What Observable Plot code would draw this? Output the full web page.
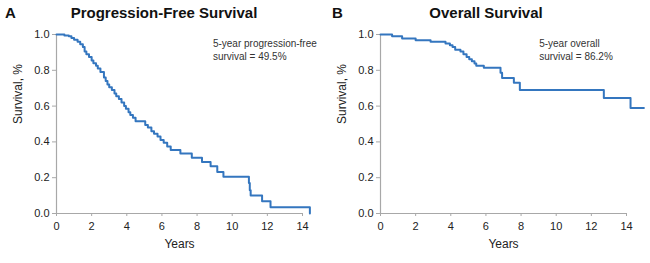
<!DOCTYPE html>
<html>
<head>
<meta charset="utf-8">
<script src="https://cdn.jsdelivr.net/npm/d3@7"></script>
<script src="https://cdn.jsdelivr.net/npm/@observablehq/plot@0.6"></script>
<style>
  html, body { margin: 0; padding: 0; background: #fff; }
  body { width: 650px; height: 263px; position: relative; overflow: hidden; font-family: "Liberation Sans", Arial, sans-serif; }
  .panel { position: absolute; top: 0; z-index: 1; }
  .letter { position: absolute; top: 4px; font-weight: bold; font-size: 15px; color: #111; z-index: 2; line-height: 18px; }
  .title { position: absolute; top: 4px; font-weight: bold; font-size: 15px; color: #111; text-align: center; z-index: 2; line-height: 18px; }
</style>
</head>
<body>
<div class="letter" style="left:5px">A</div>
<div class="title" style="left:56px;width:216px">Progression-Free Survival</div>
<div class="letter" style="left:332px">B</div>
<div class="title" style="left:380px;width:212px">Overall Survival</div>
<div id="pa" class="panel" style="left:0px"></div>
<div id="pb" class="panel" style="left:325px"></div>
<script>
// Panel A: progression-free survival (Kaplan–Meier step points)
const pfsYears = [0, 0.45, 0.7, 0.85, 1.0, 1.2, 1.35, 1.5, 1.6, 1.7, 1.85, 2.0, 2.1, 2.25, 2.35, 2.5, 2.7, 2.8, 2.9, 3.0, 3.15, 3.3, 3.4, 3.55, 3.7, 3.85, 3.95, 4.1, 4.2, 4.35, 4.5, 5.05, 5.2, 5.4, 5.55, 5.75, 5.92, 6.1, 6.3, 6.5, 7.05, 7.7, 8.28, 8.77, 9.15, 9.5, 10.95, 11.0, 11.05, 11.7, 12.18, 14.42];
const pfsSurv  = [1.0, 0.995, 0.99, 0.98, 0.97, 0.96, 0.945, 0.93, 0.905, 0.89, 0.875, 0.855, 0.84, 0.825, 0.81, 0.79, 0.76, 0.74, 0.72, 0.705, 0.69, 0.67, 0.655, 0.64, 0.62, 0.6, 0.585, 0.565, 0.55, 0.535, 0.515, 0.495, 0.48, 0.46, 0.445, 0.43, 0.41, 0.395, 0.375, 0.355, 0.335, 0.312, 0.288, 0.264, 0.232, 0.205, 0.17, 0.13, 0.10, 0.069, 0.035, 0.0];

// Panel B: overall survival
const osYears = [0, 0.66, 1.23, 2.0, 2.85, 3.7, 3.95, 4.1, 4.25, 4.55, 4.72, 4.9, 5.05, 5.2, 5.35, 5.45, 5.88, 6.83, 6.92, 7.59, 7.93, 12.71, 14.23, 14.99];
const osSurv  = [1.0, 0.99, 0.978, 0.968, 0.96, 0.95, 0.94, 0.93, 0.915, 0.905, 0.89, 0.875, 0.862, 0.85, 0.838, 0.826, 0.814, 0.786, 0.757, 0.731, 0.69, 0.645, 0.59, 0.59];

const xTicks = [0, 2, 4, 6, 8, 10, 12, 14];
const yTicks = [0, 0.2, 0.4, 0.6, 0.8, 1.0];
const yLabel = "Survival, %";
const xLabel = "Years";
const noteA = ["5-year progression-free", "survival = 49.5%"];
const noteB = ["5-year overall", "survival = 86.2%"];

function panel(years, surv, note, noteX, marginLeft, marginRight) {
  const data = years.map((t, i) => ({t, s: surv[i]}));
  const axisCol = "#a8a8a8";
  const textCol = "#222";
  return Plot.plot({
    width: 325,
    height: 263,
    marginTop: 34,
    marginBottom: 50,
    marginLeft,
    marginRight,
    style: {fontFamily: "Liberation Sans, Arial, sans-serif", fontSize: "11px", background: "transparent", color: textCol},
    x: {domain: [0, 14]},
    y: {domain: [0, 1]},
    marks: [
      Plot.ruleY([0], {x1: 0, x2: 14, stroke: axisCol, strokeWidth: 1.2}),
      Plot.ruleX([0], {y1: 0, y2: 1, stroke: axisCol, strokeWidth: 1.2}),
      Plot.axisX({ticks: xTicks, tickSize: 3, tickPadding: 6, stroke: axisCol, fill: textCol, label: null, fontSize: 11}),
      Plot.axisY({ticks: yTicks, tickSize: 4, tickPadding: 3, tickFormat: d3.format(".1f"), stroke: axisCol, fill: textCol, label: null, fontSize: 11}),
      Plot.text([yLabel], {frameAnchor: "left", rotate: -90, dx: -38, fontSize: 12, fill: textCol}),
      Plot.text([xLabel], {frameAnchor: "bottom", dy: 34, fontSize: 12, fill: textCol}),
      Plot.line(data, {x: "t", y: "s", curve: "step-after", stroke: "#3476bf", strokeWidth: 2}),
      Plot.text([note.join("\n")], {x: noteX, y: 0.985, textAnchor: "start", lineAnchor: "top", lineHeight: 1.35, fontSize: 10, fill: "#333"})
    ]
  });
}

document.getElementById("pa").appendChild(panel(pfsYears, pfsSurv, noteA, 8.9, 56, 23));
document.getElementById("pb").appendChild(panel(osYears, osSurv, noteB, 9.03, 55, 24));
</script>
</body>
</html>
